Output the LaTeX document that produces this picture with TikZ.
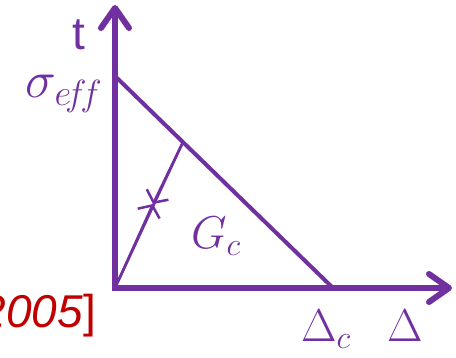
\RequirePackage{fix-cm}
\documentclass[tikz,border=0pt]{standalone}
\usepackage{amsmath,amssymb}
\usepackage{fontspec}
\setsansfont{Liberation Sans}
\usetikzlibrary{arrows.meta}
\definecolor{mypurple}{HTML}{7030A0}
\definecolor{myred}{HTML}{C00000}

\begin{document}
\begin{tikzpicture}[x=1pt,y=-1pt,>={Straight Barb[length=20pt,width=28pt,round]},
  every node/.style={font=\fontsize{46}{50}\selectfont,text=mypurple,inner sep=0pt}]
  \useasboundingbox (0,0) rectangle (456,358);
  \coordinate (O) at (115,288);
  \coordinate (T) at (115,5);
  \coordinate (X) at (452,288);
  \coordinate (A) at (117,78);
  \coordinate (C) at (333,288);
  \coordinate (P) at (183,142);
  \coordinate (M) at (153,204);

  \draw[mypurple,line width=6pt,->] (O) -- (T);
  \draw[mypurple,line width=6pt,->] (112,288) -- (X);
  \draw[mypurple,line width=4pt] (A) -- (C);
  \draw[mypurple,line width=2.5pt] (O) -- (P);
  \draw[mypurple,line width=2.5pt,-{Straight Barb[length=9pt,width=24pt]}] (O) -- (M);
  \draw[mypurple,line width=2.5pt,-{Straight Barb[length=9pt,width=24pt]}] (P) -- (M);

  \node (t) at (79,35) {\sffamily t};
  \node[font=\fontsize{52}{56}\selectfont] (sig) at (64,94) {$\sigma_{e\!f\!f}$};
  \node (gc) at (216,236) {$G_c$};
  \node (dc) at (326,329) {$\Delta_c$};
  \node (d) at (405,326) {$\Delta$};
  \node[anchor=east,text=myred] (ref) at (96,316) {\sffamily\itshape 2005\upshape]};
\end{tikzpicture}
\end{document}
